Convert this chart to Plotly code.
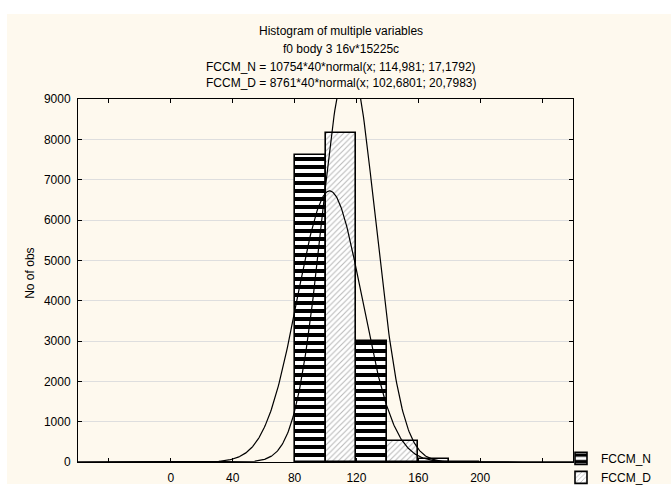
import numpy as np
import plotly.graph_objects as go

# ---- data ----
bin_left = [80, 120, 160]          # histogram bins (width 40)
bin_width = 40
fccm_n_counts = [7600, 3000, 80]
fccm_d_counts = [8150, 520, 0]

# fitted normal curves from the chart title: n * binwidth * normal(x; mean, sd)
fit_n = dict(n=10754, mean=114.981, sd=17.1792)
fit_d = dict(n=8761, mean=102.6801, sd=20.7983)

x_tick_vals = [-40, 0, 40, 80, 120, 160, 200, 240]
x_tick_text = ["", "0", "40", "80", "120", "160", "200", ""]
y_tick_vals = [0, 1000, 2000, 3000, 4000, 5000, 6000, 7000, 8000, 9000]

title_lines = [
    "Histogram of multiple variables",
    "f0 body 3 16v*15225c",
    "FCCM_N = 10754*40*normal(x; 114,981; 17,1792)",
    "FCCM_D = 8761*40*normal(x; 102,6801; 20,7983)",
]

FONT = "Liberation Sans, Arial, sans-serif"

# plot box in pixels (for placing text)
W, H = 671, 504
L, R, T, B = 78, 573, 99, 479

def py(y_px):
    return (B - y_px) / (B - T)

def px(x_px):
    return (x_px - L) / (R - L)

half = bin_width / 2
n_x = [b + half / 2 for b in bin_left]
d_x = [b + half + half / 2 for b in bin_left]

fig = go.Figure()
fig.add_trace(go.Bar(
    x=n_x, y=fccm_n_counts, width=[half] * len(n_x), name="FCCM_N",
    marker=dict(color="white", line=dict(color="black", width=1.6),
                pattern=dict(shape="-", fgcolor="black", bgcolor="white",
                             fgopacity=1, size=8, solidity=0.5)),
))
fig.add_trace(go.Bar(
    x=d_x, y=fccm_d_counts, width=[half] * len(d_x), name="FCCM_D",
    marker=dict(color="white", line=dict(color="black", width=1.6),
                pattern=dict(shape="/", fgcolor="#6e6e6e", bgcolor="white",
                             size=4, solidity=0.25)),
))

xs = np.linspace(-60, 260, 641)
for fit in (fit_n, fit_d):
    ys = fit["n"] * bin_width * np.exp(-0.5 * ((xs - fit["mean"]) / fit["sd"]) ** 2) / (
        fit["sd"] * np.sqrt(2 * np.pi))
    fig.add_trace(go.Scatter(x=xs, y=ys, mode="lines", showlegend=False,
                             line=dict(color="black", width=1.2), hoverinfo="skip"))

title_y = [28, 46.5, 65, 82]
for t, yy in zip(title_lines, title_y):
    fig.add_annotation(text=t, xref="paper", yref="paper", x=px(341), y=py(yy),
                       showarrow=False, xanchor="center", yanchor="middle",
                       font=dict(size=12, color="black", family=FONT))

fig.add_annotation(text="No of obs", xref="paper", yref="paper", x=px(30), y=py(282),
                   showarrow=False, textangle=-90, xanchor="center", yanchor="middle",
                   font=dict(size=12, color="black", family=FONT))

# cream panel behind the chart (white border on left/top/bottom)
fig.add_shape(type="rect", xref="paper", yref="paper", layer="below",
              x0=px(7), x1=px(671), y0=py(502), y1=py(10),
              fillcolor="#fef9ee", line=dict(width=0))

fig.update_layout(
    width=W, height=H, autosize=False,
    margin=dict(l=L, r=W - R, t=T, b=H - B, pad=0),
    paper_bgcolor="white", plot_bgcolor="white",
    barmode="overlay", bargap=0,
    font=dict(family=FONT, size=12, color="black"),
    showlegend=True,
    legend=dict(x=px(561), y=py(460), xanchor="left", yanchor="top",
                bgcolor="rgba(0,0,0,0)", font=dict(size=12, family=FONT),
                tracegroupgap=0, itemwidth=30),
    xaxis=dict(range=[-60, 260], tickvals=x_tick_vals, ticktext=x_tick_text,
               showgrid=False, zeroline=False, showline=True, linecolor="black",
               linewidth=1, mirror="ticks", ticks="inside", ticklen=4,
               tickcolor="black", tickfont=dict(size=12), ticklabelstandoff=5),
    yaxis=dict(range=[0, 9000], tickvals=y_tick_vals, showgrid=True,
               gridcolor="#dedede", gridwidth=1, zeroline=False, showline=True,
               linecolor="black", linewidth=1, mirror="ticks", ticks="inside",
               ticklen=4, tickcolor="black", tickfont=dict(size=12),
               ticklabelstandoff=4),
)

fig.write_html("out.html")
